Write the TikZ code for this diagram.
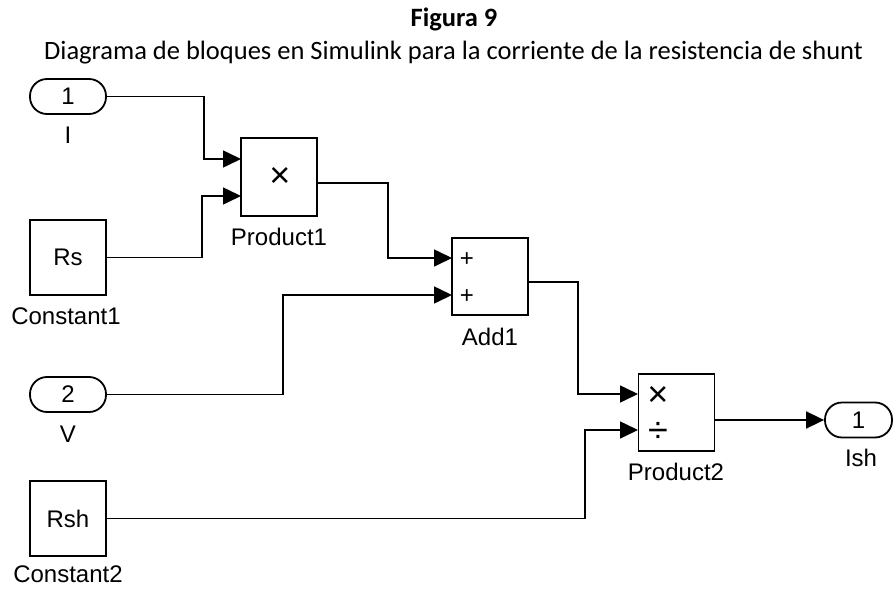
\documentclass[tikz,border=0pt]{standalone}
\usepackage{fontspec}
\setmainfont{Liberation Sans}
\newfontfamily\capfont{Carlito}
\usetikzlibrary{arrows.meta}

\begin{document}
\begin{tikzpicture}[x=1pt, y=-1pt, >={Triangle[length=18pt,width=17pt]},
  every node/.style={font=\fontsize{24}{28}\selectfont, inner sep=0pt},
  blk/.style={draw, line width=1.8pt, minimum width=76pt, minimum height=77pt},
  port/.style={draw, line width=1.8pt, rounded corners=17pt, minimum width=76pt, minimum height=35pt},
  lbl/.style={anchor=base},
  sgn/.style={font=\fontsize{36}{38}\selectfont},
  sml/.style={font=\fontsize{24}{26}\selectfont},
  sig/.style={->, line width=1.6pt}]
  \useasboundingbox (0,0) rectangle (894,591);

  % caption
  \node[font=\capfont\bfseries\fontsize{26.5}{30}\selectfont, anchor=base] (fig) at (454,27) {Figura 9};
  \node[font=\capfont\fontsize{26.5}{30}\selectfont, anchor=base] (cap) at (453.5,60)
    {Diagrama de bloques en Simulink para la corriente de la resistencia de shunt};

  % sources
  \node[port] (inI) at (68,96.5) {1};
  \node[blk, minimum height=75pt] (rs) at (68,257.5) {Rs};
  \node[port] (inV) at (68,394.5) {2};
  \node[blk, minimum height=75pt] (rsh) at (68,518.5) {Rsh};

  % blocks
  \node[blk, minimum height=78pt] (prod1) at (279,177) {};
  \node[blk] (add1) at (490,276.5) {};
  \node[blk] (prod2) at (676.5,412.5) {};
  \node[port, minimum width=67pt] (outI) at (858.5,420) {1};

  \node[sgn] (mul1) at (280,177.5) {×};
  \node[sml] (plus1) at (467,260) {+};
  \node[sml] (plus2) at (467,297) {+};
  \node[sgn] (mul2) at (658,396) {×};
  \node[sgn] (div2) at (658,432) {÷};

  % labels
  \node[lbl] (inIlbl) at (68,143) {I};
  \node[lbl] (rslbl) at (66,324) {Constant1};
  \node[lbl] (inVlbl) at (68,442) {V};
  \node[lbl] (rshlbl) at (68,582) {Constant2};
  \node[lbl] (p1lbl) at (279,245) {Product1};
  \node[lbl] (a1lbl) at (490,345) {Add1};
  \node[lbl] (p2lbl) at (676,480) {Product2};
  \node[lbl] (outlbl) at (861,466) {Ish};

  % ports
  \coordinate (p1a) at (241,159);
  \coordinate (p1b) at (241,196);
  \coordinate (p1o) at (317,183);
  \coordinate (a1a) at (452,258);
  \coordinate (a1b) at (452,295);
  \coordinate (a1o) at (528,282);
  \coordinate (p2a) at (638,394);
  \coordinate (p2b) at (638,430);
  \coordinate (p2o) at (714,420);

  % signals
  \draw[sig] (inI.east) -- ++(97,0) |- (p1a);
  \draw[sig] (rs.east) -- ++(95,0) |- (p1b);
  \draw[sig] (p1o) -- ++(71,0) |- (a1a);
  \draw[sig] (inV.east) -- ++(176,0) |- (a1b);
  \draw[sig] (a1o) -- ++(50,0) |- (p2a);
  \draw[sig] (rsh.east) -- ++(478,0) |- (p2b);
  \draw[sig] (p2o) -- (outI.west);
\end{tikzpicture}
\end{document}
